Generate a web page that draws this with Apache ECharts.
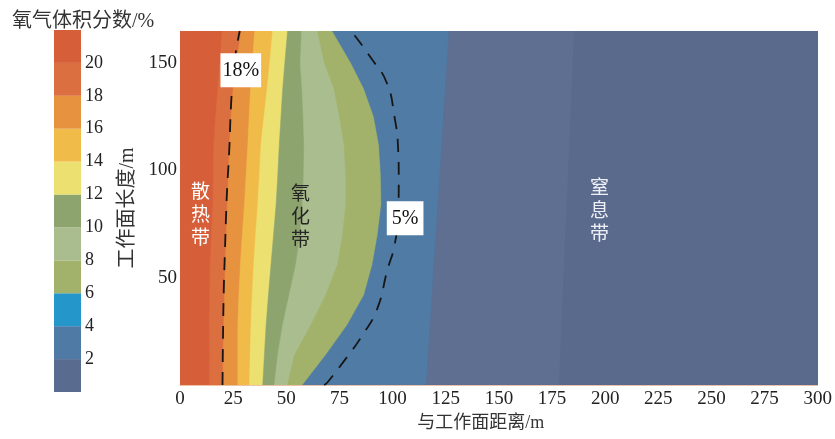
<!DOCTYPE html>
<html><head><meta charset="utf-8">
<script src="https://cdn.jsdelivr.net/npm/echarts@6/dist/echarts.min.js"></script>
<style>html,body{margin:0;padding:0;background:#fff}#c{width:835px;height:439px}</style>
</head><body><div id="c"></div>
<script>
// ---------- data ----------
const xRange = [0, 300];           // 与工作面距离/m
const xInterval = 25;
const yRange = [0, 165];           // 工作面长度/m
const yInterval = 50;

// colour bar levels (oxygen volume fraction, %)
const levelBounds = [0, 2, 4, 6, 8, 10, 12, 14, 16, 18, 20, 22];

// contour boundaries: [x, y] points, bottom -> top
const bLeft = [[0, 0], [0, 165]];
const b20 = [[13.9,0],[13.9,14],[13.9,28],[14.0,42],[14.2,56],[14.8,70],[15.5,84],[15.7,98],[15.9,112],[16.8,125],[17.8,138],[18.8,150],[19.8,165]];
const b18 = [[20.2,0],[20.3,14],[20.6,28],[21.0,42],[21.3,56],[21.8,70],[22.3,84],[22.8,98],[23.3,112],[24.0,125],[25.0,138],[26.5,150],[28.8,165]];
const b16 = [[27.2,0],[27.2,14],[27.2,28],[27.7,42],[28.4,56],[29.3,70],[30.3,84],[31.1,98],[31.9,112],[32.5,125],[33.2,138],[34.0,150],[35.1,165]];
const b14 = [[32.7,0],[33.0,14],[33.4,28],[34.0,42],[34.7,56],[35.6,70],[36.6,84],[37.4,98],[38.1,112],[39.5,125],[41.0,138],[42.2,150],[43.6,165]];
const b12 = [[38.9,0],[39.7,14],[40.5,28],[41.6,42],[42.8,56],[44.0,70],[45.2,84],[46.0,98],[46.7,112],[47.5,125],[48.3,138],[49.3,150],[50.6,165]];
const b10 = [[44.4,0],[46.0,14],[48.3,28],[51.4,42],[54.5,56],[56.5,70],[57.6,84],[58.2,98],[58.4,112],[58.0,125],[57.4,138],[56.6,150],[57.2,165]];
const b8  = [[50.6,0],[53.9,14],[61.6,28],[68.6,42],[74.1,56],[76.5,70],[78.0,84],[78.0,98],[77.2,112],[75.0,125],[72.5,138],[68.0,150],[64.7,165]];
const b6  = [[57.7,0],[68.6,14],[78.7,28],[86.6,42],[90.5,56],[93.0,70],[94.7,84],[94.5,98],[93.6,112],[91.2,125],[86.6,138],[80.5,150],[71.7,165]];
const b2  = [[115.9,0],[126.6,165]];
const b1  = [[178.4,0],[185.6,165]];

// dashed iso-lines
const line18 = [[20.0,0],[20.2,20],[20.6,45],[21.1,61],[21.7,80],[22.2,92],[23.1,108],[24.2,134],[25.5,150],[28.1,165]];
const line5  = [[67.8,0],[69.4,1.3],[78.0,12.3],[85.8,23.2],[92.8,35.6],[97.5,53.5],[100.9,65],[102.6,80],[102.9,96],[102.6,110],[100.9,125],[97.2,141],[89.7,152.6],[81.1,164.2],[80.0,165]];

// iso-line labels
const isoLabelText = ['18%', '5%'];
const isoLabelPos  = [[28.6, 146.7], [105.9, 77.7]];

// zone labels
const zoneNames = ['散热带', '氧化带', '窒息带'];
const zonePos   = [[9.6, 78.7], [56.7, 77.8], [197.3, 80.8]];

// ---------- styles ----------
const levelColors = ['#5a6b90','#4e7aa5','#2596ca','#a3b26a','#aabd8f','#8da46e','#ece170','#f1bb4a','#e6923f','#dc6f3f','#d65f3a'];
const regionBoundaries = [bLeft, b20, b18, b16, b14, b12, b10, b8, b6, b2, b1];
const regionColors = ['#d65f3a','#dc6f3f','#e6923f','#f1bb4a','#ece170','#8da46e','#aabd8f','#a3b26a','#4f7ba5','#5e6f92','#5a6a8c'];
const zoneColors = ['#ffffff', '#262626', '#eef0f6'];
const isoPad = [[7, 2], [7, 5]];

const SERIF = '"Liberation Serif","Times New Roman","Noto Sans CJK SC",serif';

const chart = echarts.init(document.getElementById('c'));

const colorbarData = levelColors.map((c, i) => [levelBounds[i], levelBounds[i + 1]]);

chart.setOption({
  animation: false,
  backgroundColor: '#fff',
  textStyle: { fontFamily: SERIF },
  title: {
    text: '氧气体积分数/%', left: 7, top: 7,
    textStyle: { fontFamily: SERIF, fontSize: 20, fontWeight: 'normal', color: '#333' }
  },
  grid: [
    { left: 180, right: 15, top: 31, bottom: 54 },
    { left: 54, top: 30, width: 27, height: 362 }
  ],
  xAxis: [
    {
      gridIndex: 0, type: 'value', min: xRange[0], max: xRange[1], interval: xInterval,
      axisLine: { show: false }, axisTick: { show: false }, splitLine: { show: false },
      axisLabel: { fontSize: 19, color: '#222', margin: 5, fontFamily: SERIF },
      name: '与工作面距离/m', nameLocation: 'middle', nameGap: 27,
      nameTextStyle: { fontSize: 18, color: '#333', fontFamily: SERIF, padding: [0, 36, 0, 0] }
    },
    {
      gridIndex: 0, type: 'value', position: 'top', min: xRange[0], max: xRange[1],
      axisLine: { show: true, lineStyle: { color: '#ecc2a6', width: 1 } },
      axisTick: { show: false }, axisLabel: { show: false }, splitLine: { show: false }
    },
    {
      gridIndex: 1, type: 'value', min: 0, max: 1, show: false
    }
  ],
  yAxis: [
    {
      gridIndex: 0, type: 'value', min: yRange[0], max: yRange[1], interval: yInterval,
      axisLine: { show: false }, axisTick: { show: false }, splitLine: { show: false },
      axisLabel: { fontSize: 19, color: '#222', margin: 3, showMinLabel: false, showMaxLabel: false, fontFamily: SERIF },
      name: '工作面长度/m', nameLocation: 'middle', nameGap: 41,
      nameTextStyle: { fontSize: 20, color: '#333', fontFamily: SERIF }
    },
    {
      gridIndex: 0, type: 'value', position: 'right', min: yRange[0], max: yRange[1],
      axisLine: { show: true, lineStyle: { color: '#ecc2a6', width: 1 } },
      axisTick: { show: false }, axisLabel: { show: false }, splitLine: { show: false }
    },
    {
      gridIndex: 1, type: 'value', position: 'right', min: levelBounds[0], max: levelBounds[levelBounds.length - 1], interval: 2,
      axisLine: { show: false }, axisTick: { show: false }, splitLine: { show: false },
      axisLabel: { fontSize: 18, color: '#222', margin: 4, showMinLabel: false, showMaxLabel: false, fontFamily: SERIF }
    }
  ],
  series: [
    {
      type: 'custom', name: 'regions', xAxisIndex: 0, yAxisIndex: 0, z: 1, clip: true,
      data: regionBoundaries.map((b, i) => [i]),
      renderItem: function (params, api) {
        const b = regionBoundaries[params.dataIndex];
        const pts = b.map(p => api.coord(p));
        pts.push(api.coord([xRange[1], yRange[1]]));
        pts.push(api.coord([xRange[1], yRange[0]]));
        return {
          type: 'polygon',
          shape: { points: pts },
          style: { fill: regionColors[params.dataIndex], stroke: regionColors[params.dataIndex], lineWidth: 0.5 }
        };
      }
    },
    {
      type: 'line', name: '18%', xAxisIndex: 0, yAxisIndex: 0, z: 3,
      data: line18, showSymbol: false, symbol: 'none', smooth: 0.5,
      lineStyle: { color: '#161616', width: 1.8, type: [13, 10] }
    },
    {
      type: 'line', name: '5%', xAxisIndex: 0, yAxisIndex: 0, z: 3,
      data: line5, showSymbol: false, symbol: 'none', smooth: 0.5,
      lineStyle: { color: '#161616', width: 1.8, type: [13, 10] }
    },
    {
      type: 'scatter', name: 'isoLabels', xAxisIndex: 0, yAxisIndex: 0, z: 6,
      symbolSize: 0, itemStyle: { opacity: 1 },
      data: isoLabelPos.map((p, i) => ({
        value: p,
        label: {
          show: true, position: 'inside', formatter: isoLabelText[i],
          backgroundColor: '#ffffff', padding: isoPad[i], opacity: 1,
          fontSize: 20, color: '#111', fontFamily: SERIF
        }
      }))
    },
    {
      type: 'scatter', name: 'zones', xAxisIndex: 0, yAxisIndex: 0, z: 6,
      symbolSize: 0, itemStyle: { opacity: 1 },
      data: zonePos.map((p, i) => ({
        value: p,
        label: {
          show: true, position: 'inside', formatter: zoneNames[i].split('').join('\n'), opacity: 1,
          fontSize: 19, lineHeight: 23, color: zoneColors[i], fontFamily: SERIF
        }
      }))
    },
    {
      type: 'custom', name: 'colorbar', xAxisIndex: 2, yAxisIndex: 2, z: 2,
      data: colorbarData,
      renderItem: function (params, api) {
        const lo = api.value(0), hi = api.value(1);
        const p1 = api.coord([0, hi]);
        const p2 = api.coord([1, lo]);
        return {
          type: 'rect',
          shape: { x: p1[0], y: p1[1], width: p2[0] - p1[0], height: p2[1] - p1[1] },
          style: { fill: levelColors[params.dataIndex] }
        };
      }
    }
  ]
});
</script>
</body></html>
